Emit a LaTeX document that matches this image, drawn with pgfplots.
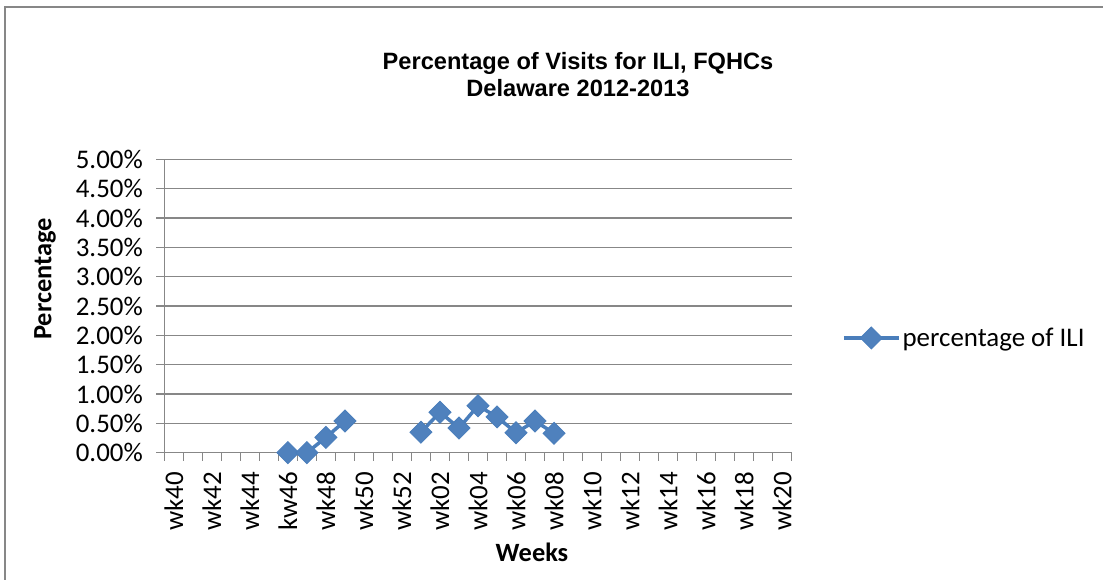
\documentclass[border=0pt]{standalone}
\usepackage{pgfplots}
\pgfplotsset{compat=1.18}
\usepackage{fontspec}
\setmainfont{Carlito}
\newfontfamily\titlefont{Liberation Sans}
\definecolor{serblue}{HTML}{4A7EBB}
\definecolor{serfill}{HTML}{4F81BD}
\definecolor{gridgray}{HTML}{878787}
\begin{document}
\begin{tikzpicture}[x=1bp,y=1bp]
\path[use as bounding box] (0,0) rectangle (1103,580);
\draw[gridgray, line width=1.5bp] (5,0) -- (5,573) -- (1103,573);
\node[font=\titlefont\bfseries\fontsize{23.7}{27}\selectfont, align=center, inner sep=0] at (578,505) {Percentage of Visits for ILI, FQHCs\\Delaware 2012-2013};
\begin{axis}[
  at={(164.3bp,127.3bp)}, anchor=south west, scale only axis,
  width=627.4bp, height=293.4bp,
  xmin=-0.5, xmax=32.5, ymin=0, ymax=5,
  axis lines*=left,
  axis line style={gridgray, line width=1.4bp, -},
  ytick={0,0.5,1,1.5,2,2.5,3,3.5,4,4.5,5},
  yticklabel={\pgfmathprintnumber[fixed,fixed zerofill,precision=2]{\tick}\%},
  /pgf/number format/assume math mode=true,
  ymajorgrids, major grid style={gridgray, line width=1.4bp},
  tick style={gridgray, line width=1.4bp},
  tick align=outside, major tick length=8bp, minor tick length=8bp,
  xtick={0,2,...,32},
  xticklabels={wk40,wk42,wk44,kw46,wk48,wk50,wk52,wk02,wk04,wk06,wk08,wk10,wk12,wk14,wk16,wk18,wk20},
  major x tick style={draw=none},
  minor xtick={-0.5,0.5,...,32.5},
  xticklabel shift=8bp, yticklabel shift=10bp,
  x tick label style={rotate=90, anchor=east, font=\fontsize{27}{32}\selectfont},
  y tick label style={font=\fontsize{27}{32}\selectfont},
  unbounded coords=jump,
  legend style={at={(axis description cs:1.08,0.391)}, anchor=west, draw=none, fill=none,
    font=\fontsize{27}{32}\selectfont, inner sep=0pt},
  legend image code/.code={\draw[mark repeat=2,mark phase=2,#1] plot coordinates {(0bp,0bp)(27.5bp,0bp)(55bp,0bp)};},
]
\addplot[serblue, line width=3.5bp, mark=square*, mark size=7.8bp,
  mark options={rotate=45, fill=serfill, draw=serblue, line width=0.8bp}]
  coordinates {(6,0) (7,0) (8,0.26) (9,0.54) (10,nan) (13,0.35) (14,0.69) (15,0.42) (16,0.80) (17,0.61) (18,0.34) (19,0.54) (20,0.33)};
\addlegendentry{percentage of ILI}
\end{axis}
\node[font=\bfseries\fontsize{26.5}{30}\selectfont, rotate=90] at (45,301) {Percentage};
\node[font=\bfseries\fontsize{26.5}{30}\selectfont] at (532,28) {Weeks};
\end{tikzpicture}
\end{document}
